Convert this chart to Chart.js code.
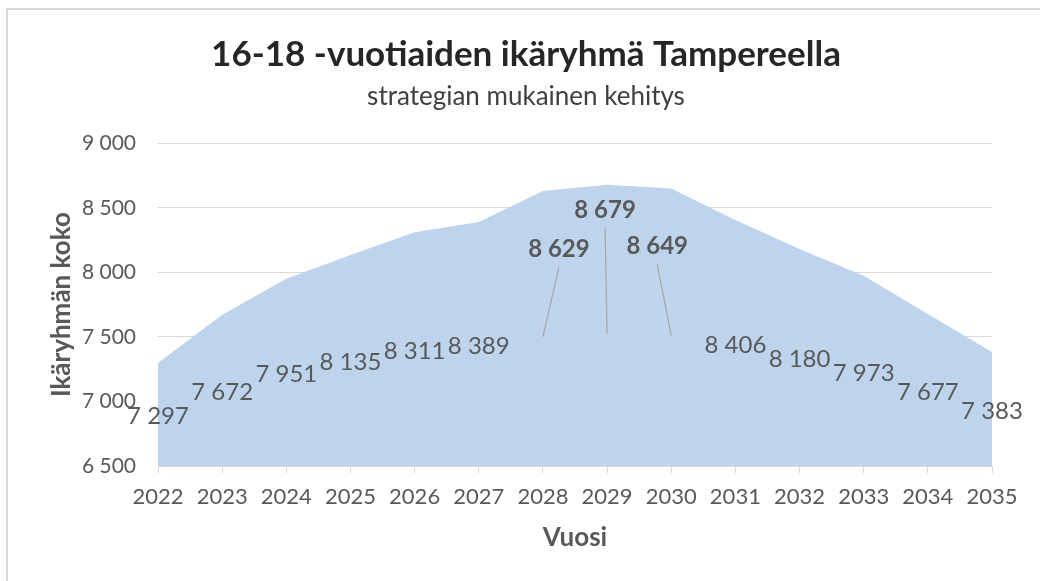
<!DOCTYPE html>
<html>
<head>
<meta charset="utf-8">
<script src="https://cdn.jsdelivr.net/npm/chart.js@4"></script>
<style>
  html, body { margin: 0; padding: 0; background: #fff; overflow: hidden; }
  #frame { position: absolute; left: 6px; top: 8px; width: 1034px; height: 573px;
           border-left: 2px solid #d9d9d9; border-top: 2px solid #d9d9d9; }
  #wrap { position: absolute; left: 0; top: 0; width: 1040px; height: 581px; }
</style>
</head>
<body>
<div id="frame"></div>
<div id="wrap"><canvas id="chart" width="1040" height="581"></canvas></div>
<script>
  // ========== DATA ==========
  const years = ["2022", "2023", "2024", "2025", "2026", "2027", "2028",
                 "2029", "2030", "2031", "2032", "2033", "2034", "2035"];
  const population = [7297, 7672, 7951, 8135, 8311, 8389, 8629,
                      8679, 8649, 8406, 8180, 7973, 7677, 7383];
  const yMin = 6500, yMax = 9000, yStep = 500;
  const highlightYears = ["2028", "2029", "2030"];

  // label offsets (px) for the dragged-out labels with leader lines
  const labelOffsets = { "2028": [16, -81], "2029": [-2, -117], "2030": [-14, -83] };

  const FONT = "Lato, 'Open Sans', sans-serif";
  const TEXT = "#595959";

  // ========== HELPERS ==========
  function fmt(n) {
    return String(n).replace(/\B(?=(\d{3})+(?!\d))/g, " ");
  }

  // ========== LABEL PLUGIN ==========
  const areaLabels = {
    id: "areaLabels",
    afterDatasetsDraw(chart) {
      const ctx = chart.ctx;
      const xs = chart.scales.x, ys = chart.scales.y;
      ctx.save();
      ctx.textAlign = "center";
      ctx.textBaseline = "middle";
      population.forEach((v, i) => {
        const px = xs.getPixelForValue(i);
        const py = ys.getPixelForValue((v + ys.min) / 2);
        const off = labelOffsets[years[i]];
        const bold = highlightYears.includes(years[i]);
        let lx = px, ly = py;
        if (off) {
          lx = px + off[0];
          ly = py + off[1];
          ctx.strokeStyle = "#a6a6a6";
          ctx.lineWidth = 1.2;
          ctx.beginPath();
          ctx.moveTo(px, py + 8);
          ctx.lineTo(lx, ly + 20);
          ctx.stroke();
        }
        ctx.fillStyle = TEXT;
        ctx.font = (bold ? "bold " : "") + "24px " + FONT;
        ctx.fillText(fmt(v), lx, ly + 2);
      });
      ctx.restore();
    }
  };

  // ========== CHART ==========
  new Chart(document.getElementById("chart"), {
    type: "line",
    data: {
      labels: years,
      datasets: [{
        label: "16-18 -vuotiaat",
        data: population,
        fill: "start",
        backgroundColor: "#bdd4ec",
        borderWidth: 0,
        pointRadius: 0,
        tension: 0
      }]
    },
    options: {
      responsive: false,
      animation: false,
      devicePixelRatio: 1,
      layout: { padding: { left: 12, right: 0, top: 0, bottom: 28 } },
      plugins: {
        legend: { display: false },
        tooltip: { enabled: false },
        title: {
          display: true,
          text: "16-18 -vuotiaiden ikäryhmä Tampereella",
          color: "#262626",
          font: { family: FONT, size: 35, weight: "bold", lineHeight: 1.2 },
          padding: { top: 34, bottom: 0 }
        },
        subtitle: {
          display: true,
          text: "strategian mukainen kehitys",
          color: "#404040",
          font: { family: FONT, size: 26, lineHeight: 1.2 },
          padding: { top: 5, bottom: 31 }
        }
      },
      scales: {
        x: {
          afterFit(scale) { scale.height = 87; },
          grid: { drawOnChartArea: false, drawTicks: true, tickLength: 7, color: "#d9d9d9" },
          border: { display: true, color: "#d9d9d9" },
          ticks: { color: TEXT, font: { family: FONT, size: 22 }, padding: 11, maxRotation: 0, autoSkip: false },
          title: {
            display: true, text: "Vuosi", color: TEXT,
            font: { family: FONT, size: 26, weight: "bold", lineHeight: 1.2 },
            padding: { top: 0, bottom: 0 }
          }
        },
        y: {
          min: yMin, max: yMax,
          afterFit(scale) { scale.width = 146; },
          grid: { drawTicks: false, color: "#d9d9d9" },
          border: { display: false },
          ticks: { stepSize: yStep, color: TEXT, font: { family: FONT, size: 21 }, padding: 22,
                   callback: v => fmt(v) },
          title: {
            display: true, text: "Ikäryhmän koko", color: TEXT,
            font: { family: FONT, size: 26, weight: "bold", lineHeight: 1.2 },
            padding: { top: 34, bottom: 0 }
          }
        },
        // empty right-hand spacer so the plot ends where the reference's does
        yRight: {
          type: "linear",
          position: "right",
          display: true,
          afterFit(scale) { scale.width = 48; },
          grid: { display: false },
          border: { display: false },
          ticks: { display: false }
        }
      }
    },
    plugins: [areaLabels]
  });
</script>
</body>
</html>
